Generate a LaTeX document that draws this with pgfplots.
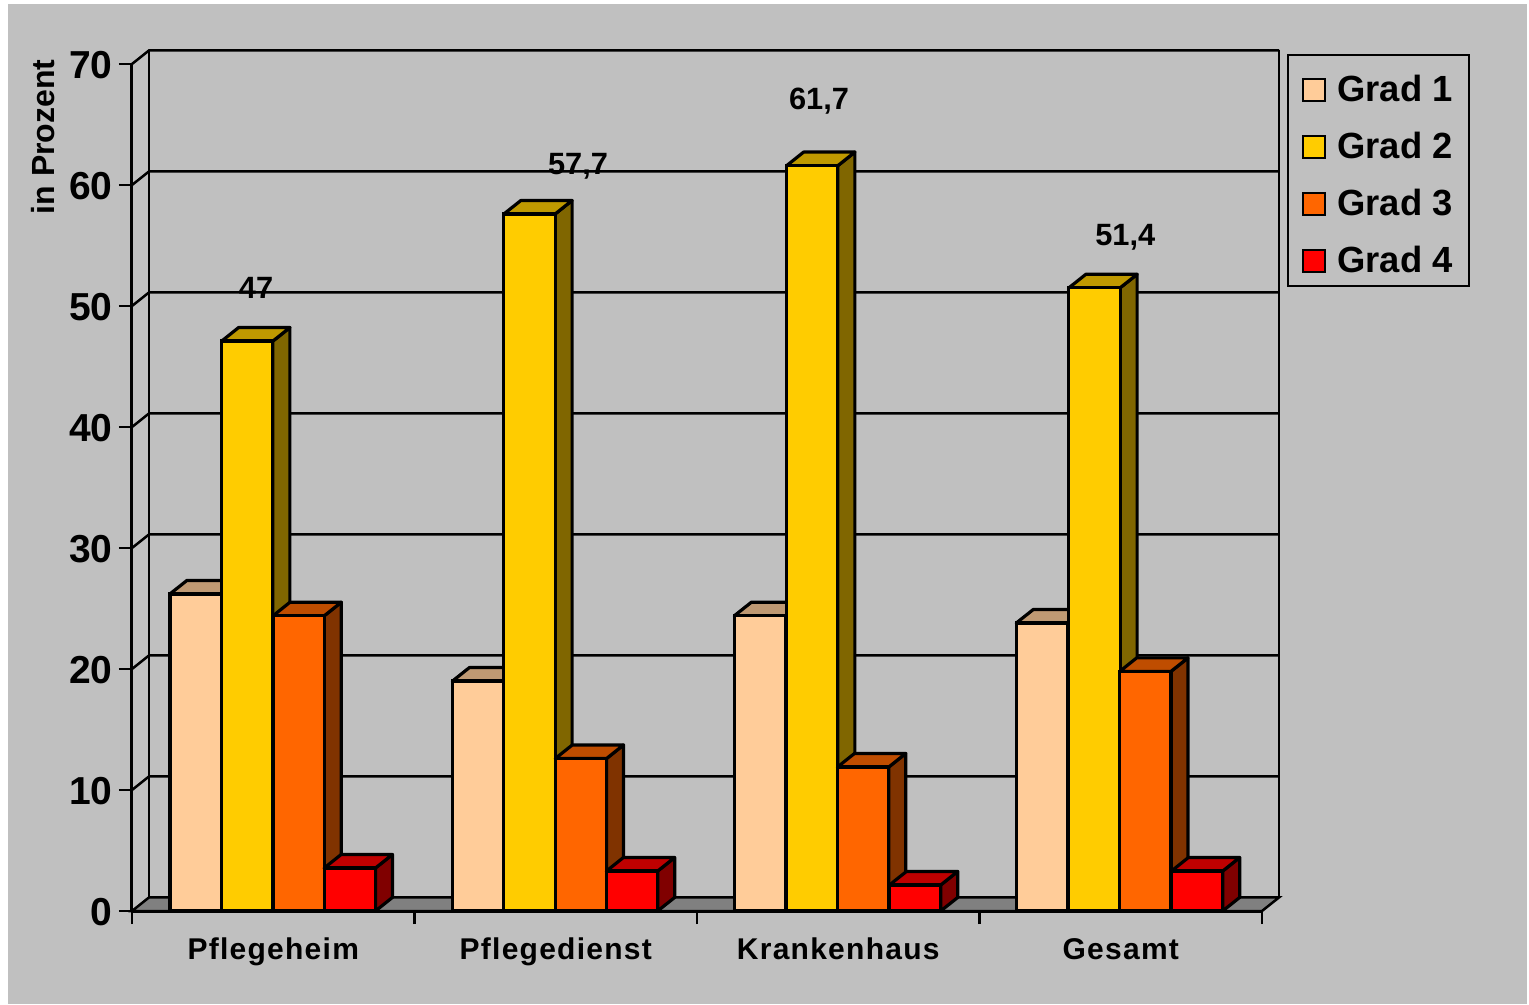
\documentclass[border=0pt]{standalone}
\usepackage{fontspec}
\setmainfont{Liberation Sans}
\newfontfamily\spaced[LetterSpace=4.2]{Liberation Sans}
\usepackage{pgfplots}
\pgfplotsset{compat=1.18}
\definecolor{bg}{HTML}{C0C0C0}
\definecolor{floorc}{HTML}{808080}
\definecolor{gaF}{HTML}{FFCC99}\definecolor{gaT}{HTML}{BF9973}\definecolor{gaS}{HTML}{806650}
\definecolor{gbF}{HTML}{FFCC00}\definecolor{gbT}{HTML}{BF9900}\definecolor{gbS}{HTML}{806600}
\definecolor{gcF}{HTML}{FF6600}\definecolor{gcT}{HTML}{BF4D00}\definecolor{gcS}{HTML}{803300}
\definecolor{gdF}{HTML}{FF0000}\definecolor{gdT}{HTML}{BF0000}\definecolor{gdS}{HTML}{800000}
% one 3D bar: centre x, value, colour prefix
\newcommand{\threedbar}[3]{%
  \pgfmathsetmacro{\xl}{#1-0.0907}%
  \pgfmathsetmacro{\xr}{#1+0.0907}%
  \pgfmathsetmacro{\xlb}{#1-0.0907+0.0602}%
  \pgfmathsetmacro{\xrb}{#1+0.0907+0.0602}%
  \pgfmathsetmacro{\vb}{#2+1.12}%
  \addplot[forget plot,draw=black,line width=1.6pt,line join=round,fill=#3S] coordinates {(\xr,0) (\xrb,1.12) (\xrb,\vb) (\xr,#2)} --cycle;
  \addplot[forget plot,draw=black,line width=1.6pt,line join=round,fill=#3T] coordinates {(\xl,#2) (\xlb,\vb) (\xrb,\vb) (\xr,#2)} --cycle;
  \addplot[forget plot,ybar,bar width=0.1814,draw=black,line width=1.6pt,fill=#3F] coordinates {(#1,#2)};
}
\newcommand{\gridl}[1]{%
  \pgfmathsetmacro{\vb}{#1+1.12}%
  \addplot[forget plot,black,line width=1.25pt] coordinates {(0,#1) (0.0602,\vb) (4.0602,\vb)};
}
\begin{document}
\begin{tikzpicture}
\useasboundingbox (-66pt,-47pt) rectangle (698.5pt,455.5pt);
\fill[white] (-66pt,-47pt) rectangle (698.5pt,455.5pt);
\fill[bg] (-62pt,-46.5pt) rectangle (697.5pt,453.5pt);
\draw[black,line width=1.1pt] (578pt,428pt) rectangle (668.5pt,312.5pt);
\begin{axis}[
  scale only axis, width=565pt, height=423.5pt,
  xmin=0, xmax=4, ymin=0, ymax=70,
  clip=false,
  axis x line*=bottom, axis y line*=left,
  axis line style={line width=1.5pt,-},
  tick align=outside, tick style={black,line width=1.2pt},
  major tick length=6.5pt, minor tick length=6.5pt,
  ytick={0,10,...,70},
  xtick={0.5,1.5,2.5,3.5},
  xticklabels={Pflegeheim,Pflegedienst,Krankenhaus,Gesamt},
  minor xtick={0,1,2,3,4},
  major x tick style={draw=none},
  /pgf/number format/assume math mode=true,
  yticklabel style={font=\fontsize{19.5}{19.5}\selectfont\bfseries, xshift=0.3pt, yshift=-0.4pt},
  xticklabel style={font=\fontsize{15}{15}\spaced\bfseries, yshift=-3.5pt},
  ylabel={in Prozent},
  ylabel style={font=\fontsize{16}{16}\selectfont\bfseries, at={(axis description cs:-0.0788,0.914)}, anchor=center},
  legend style={at={(axis description cs:1.023,1.0106)}, anchor=north west, yshift=-3pt,
    draw=none, line width=1.1pt, fill=none, inner xsep=6.5pt, inner ysep=5pt,
    font=\fontsize{18.2}{18.2}\selectfont\bfseries, row sep=10.85pt,
    nodes={inner sep=1.5pt}, cells={anchor=west},
    /tikz/column 1/.style={column sep=4.2pt}},
  legend image code/.code={\draw[draw=black,line width=1pt,#1] (0pt,-5.5pt) rectangle (11pt,5.5pt);},
]
\addlegendimage{fill=gaF}\addlegendentry{Grad 1}
\addlegendimage{fill=gbF}\addlegendentry{Grad 2}
\addlegendimage{fill=gcF}\addlegendentry{Grad 3}
\addlegendimage{fill=gdF}\addlegendentry{Grad 4}
% floor
\addplot[forget plot,draw=black,line width=1.25pt,fill=floorc] coordinates {(0,0) (0.0602,1.12) (4.0602,1.12) (4,0)} --cycle;
% walls
\gridl{10}\gridl{20}\gridl{30}\gridl{40}\gridl{50}\gridl{60}\gridl{70}
\addplot[forget plot,black,line width=1.25pt] coordinates {(0.0602,1.12) (0.0602,71.12)};
\addplot[forget plot,black,line width=1.25pt] coordinates {(4.0602,1.12) (4.0602,71.12)};
% Pflegeheim
\threedbar{0.225}{26.2}{ga}\threedbar{0.408}{47.1}{gb}\threedbar{0.590}{24.4}{gc}\threedbar{0.771}{3.55}{gd}
% Pflegedienst
\threedbar{1.225}{19.0}{ga}\threedbar{1.407}{57.6}{gb}\threedbar{1.589}{12.6}{gc}\threedbar{1.770}{3.3}{gd}
% Krankenhaus
\threedbar{2.223}{24.4}{ga}\threedbar{2.408}{61.6}{gb}\threedbar{2.588}{11.9}{gc}\threedbar{2.772}{2.15}{gd}
% Gesamt
\threedbar{3.221}{23.8}{ga}\threedbar{3.407}{51.5}{gb}\threedbar{3.587}{19.8}{gc}\threedbar{3.770}{3.3}{gd}
\path[font=\fontsize{15.4}{15.4}\selectfont\bfseries]
  (axis cs:0.439,51.5) node {47}
  (axis cs:1.579,61.55) node {57,7}
  (axis cs:2.432,66.9) node {61,7}
  (axis cs:3.516,55.7) node {51,4};
\end{axis}
\end{tikzpicture}
\end{document}
